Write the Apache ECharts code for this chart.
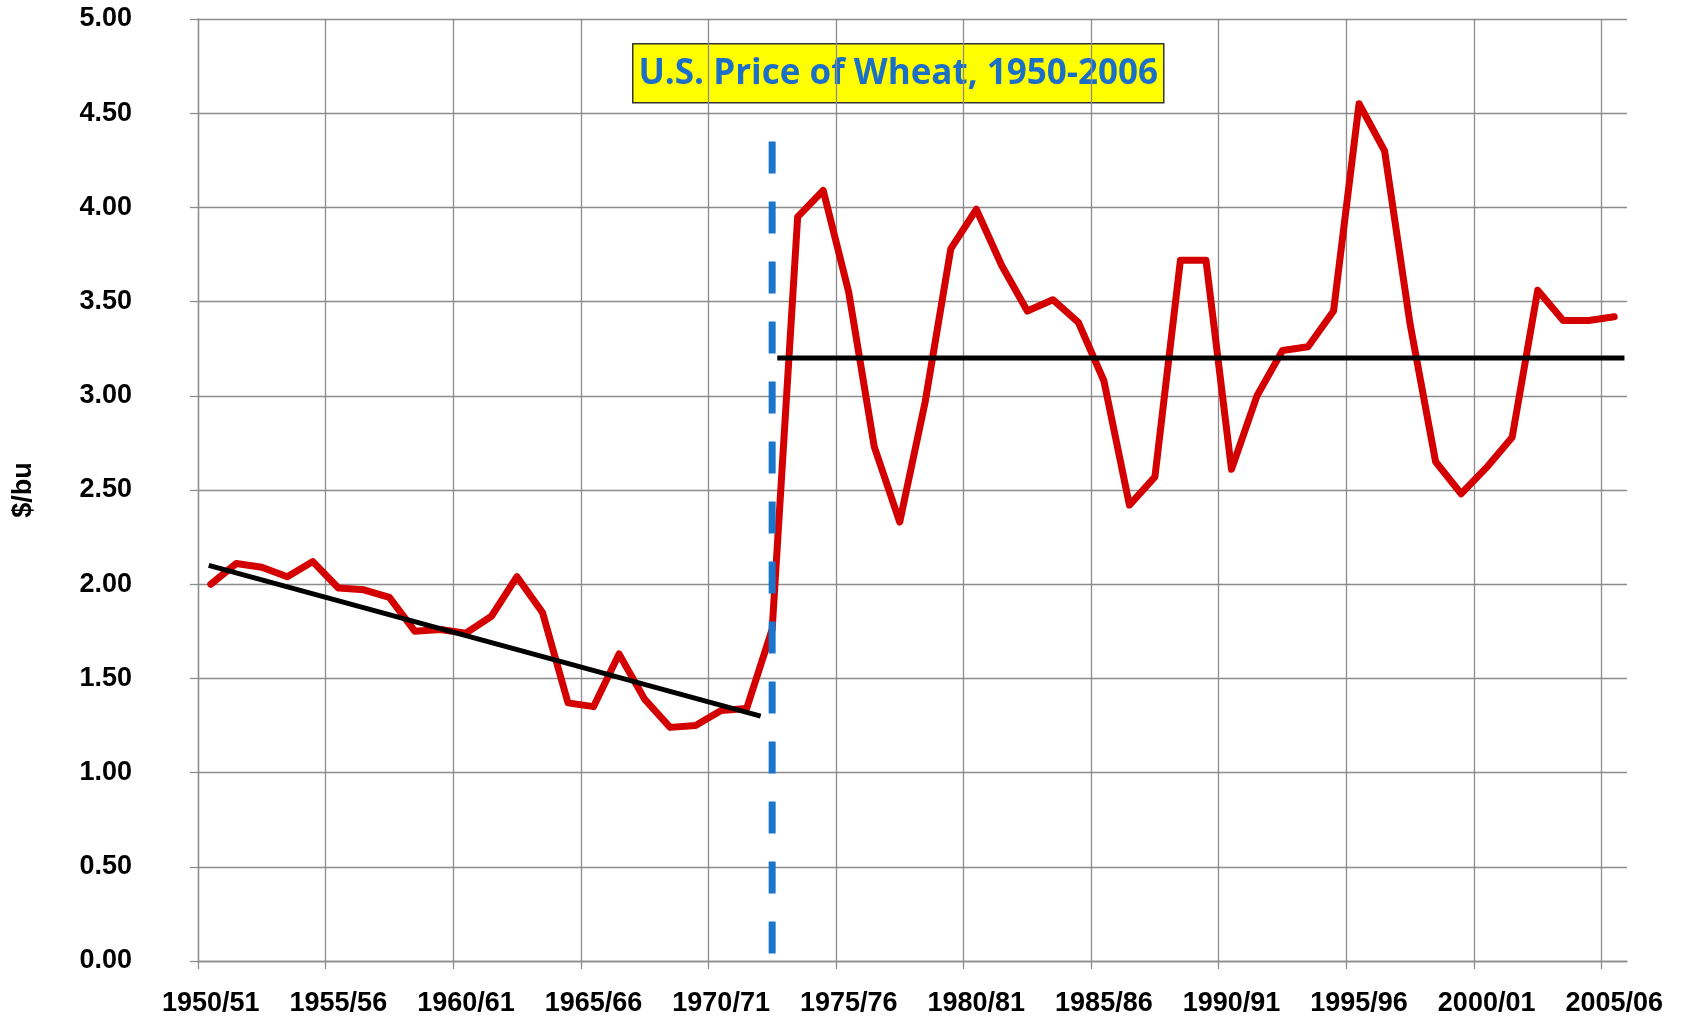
<!DOCTYPE html>
<html>
<head>
<meta charset="utf-8">
<title>U.S. Price of Wheat, 1950-2006</title>
<script src="https://cdn.jsdelivr.net/npm/echarts@6/dist/echarts.min.js"></script>
<style>
html,body{margin:0;padding:0;background:#fff;}
#main{width:1681px;height:1023px;}
</style>
</head>
<body>
<div id="main"></div>
<script>
let seasons=['1950/51','1951/52','1952/53','1953/54','1954/55','1955/56','1956/57','1957/58','1958/59','1959/60',
	'1960/61','1961/62','1962/63','1963/64','1964/65','1965/66','1966/67','1967/68','1968/69','1969/70',
	'1970/71','1971/72','1972/73','1973/74','1974/75','1975/76','1976/77','1977/78','1978/79','1979/80',
	'1980/81','1981/82','1982/83','1983/84','1984/85','1985/86','1986/87','1987/88','1988/89','1989/90',
	'1990/91','1991/92','1992/93','1993/94','1994/95','1995/96','1996/97','1997/98','1998/99','1999/00',
	'2000/01','2001/02','2002/03','2003/04','2004/05','2005/06'];

// $/bu
let prices=[2.00,2.11,2.09,2.04,2.12,1.98,1.97,1.93,1.75,1.76,
	1.74,1.83,2.04,1.85,1.37,1.35,1.63,1.39,1.24,1.25,
	1.33,1.34,1.76,3.95,4.09,3.55,2.73,2.33,2.97,3.78,
	3.99,3.69,3.45,3.51,3.39,3.08,2.42,2.57,3.72,3.72,
	2.61,3.00,3.24,3.26,3.45,4.55,4.30,3.38,2.65,2.48,
	2.62,2.78,3.56,3.40,3.40,3.42];

// trend lines and the break, x in season units (season i is centred on i+0.5)
let trendBefore=[[0.42,2.10],[22.05,1.30]];
let trendAfter=[[22.7,3.20],[55.9,3.20]];
let policyBreak=[[22.5,4.35],[22.5,0]];

// tick marks under the x axis, every fifth season boundary
let seasonTicks=[0,5,10,15,20,25,30,35,40,45,50,55];

let titleText='U.S. Price of Wheat, 1950-2006';
let yName='$/bu';

let gridColor='#8c8c8c';
let labelFont={fontFamily:'Liberation Sans',fontWeight:'bold',fontSize:27,color:'#000'};

function initChart(domid){
	let dom=document.getElementById(domid);
	if(dom==null) return;
	let chart=echarts.getInstanceByDom(dom);
	if(chart) return chart;
	return echarts.init(dom);
}

let mychart=initChart('main');

let option={
	animation:false,
	backgroundColor:'#fff',
	grid:{left:198,right:54,top:19,bottom:62},
	xAxis:[{
		type:'category',
		data:seasons,
		position:'bottom',
		boundaryGap:true,
		axisLine:{show:true,lineStyle:{color:gridColor,width:1.3}},
		axisTick:{show:false},
		axisLabel:Object.assign({interval:4,margin:29},labelFont),
		splitLine:{show:true,interval:4,showMaxLine:false,lineStyle:{color:gridColor,width:1.3}}
	},{
		type:'value',
		min:0,
		max:56,
		position:'bottom',
		axisLine:{show:false},
		axisLabel:{show:false},
		splitLine:{show:false},
		axisTick:{show:true,customValues:seasonTicks,length:8,lineStyle:{color:gridColor,width:1.3}}
	}],
	yAxis:{
		type:'value',
		min:0,
		max:5,
		interval:0.5,
		name:yName,
		nameLocation:'middle',
		nameRotate:90,
		nameGap:161,
		nameTextStyle:labelFont,
		axisLine:{show:true,lineStyle:{color:gridColor,width:1.3}},
		axisTick:{show:true,length:8,lineStyle:{color:gridColor,width:1.3}},
		axisLabel:Object.assign({margin:66,formatter:function(v){return v.toFixed(2);}},labelFont),
		splitLine:{show:true,lineStyle:{color:gridColor,width:1.3}}
	},
	series:[{
		name:'price',
		type:'line',
		data:prices,
		xAxisIndex:0,
		symbol:'none',
		z:2,
		lineStyle:{color:'#d40000',width:7,join:'round',cap:'round'}
	},{
		name:'trend before',
		type:'line',
		data:trendBefore,
		xAxisIndex:1,
		symbol:'none',
		z:3,
		lineStyle:{color:'#000',width:5,cap:'butt'}
	},{
		name:'trend after',
		type:'line',
		data:trendAfter,
		xAxisIndex:1,
		symbol:'none',
		z:3,
		lineStyle:{color:'#000',width:5,cap:'butt'}
	},{
		name:'break',
		type:'line',
		data:policyBreak,
		xAxisIndex:1,
		symbol:'none',
		z:4,
		lineStyle:{color:'#1a75cc',width:7,type:[32,28],cap:'butt'}
	}],
	graphic:[{
		type:'group',
		left:632,
		top:43,
		z:10,
		children:[{
			type:'rect',
			shape:{x:0,y:0,width:531,height:59},
			style:{fill:'#ffff00',stroke:'#333',lineWidth:1.5}
		},{
			type:'text',
			x:265.5,
			y:30,
			style:{text:titleText,fill:'#1c6fc6',font:'bold 35px "Open Sans"',align:'center',verticalAlign:'middle'}
		}]
	}]
};

mychart.setOption(option,true);
</script>
</body>
</html>
